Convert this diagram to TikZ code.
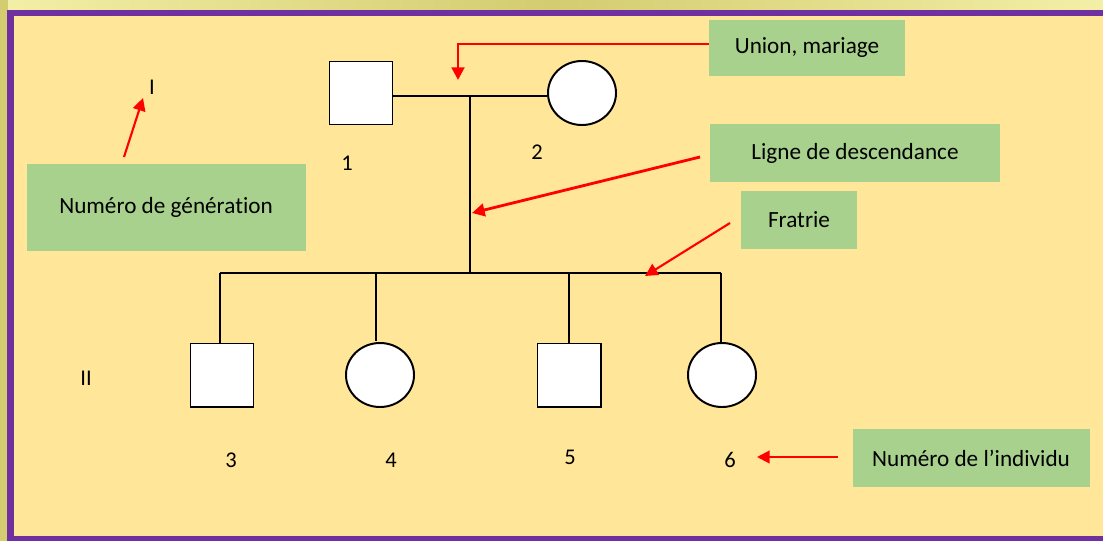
\documentclass[tikz,border=0pt]{standalone}
\usepackage{fontspec}
\setmainfont{Carlito}[Ligatures=NoCommon]
\usetikzlibrary{positioning,shapes,arrows.meta}

\definecolor{bgyellow}{HTML}{FFE699}
\definecolor{glow}{HTML}{D3CC70}
\definecolor{glowlight}{HTML}{F3EFA6}
\definecolor{frame}{HTML}{7030A0}
\definecolor{note}{HTML}{A9D18E}
\definecolor{pointer}{HTML}{FF0000}

\tikzset{
  male/.style={draw, line width=1.4pt, fill=white, minimum size=1.575cm, inner sep=0pt},
  female/.style={draw, line width=1.4pt, fill=white, ellipse, minimum width=1.7cm, minimum height=1.6cm, inner sep=0pt},
  link/.style={line width=1.4pt},
  notebox/.style={fill=note, font=\fontsize{16.5}{19}\selectfont, inner sep=0pt},
  num/.style={font=\fontsize{16}{19}\selectfont},
  redarrow/.style={draw=pointer, line width=2pt, -{Triangle[length=9pt,width=9pt]}}
}

\begin{document}
\begin{tikzpicture}[x=0.025cm, y=-0.025cm]
\useasboundingbox (0,0) rectangle (1103,541);
% background and frame
\fill[left color=glowlight, right color=glowlight, middle color=glow] (0,0) rectangle (1103,14);
\fill[glow] (0,0) rectangle (8,541);
\fill[frame] (7,9.5) rectangle (1103,15.5);
\fill[frame] (7,9.5) rectangle (13.5,541);
\fill[frame] (7,535.5) rectangle (1103,541);
\fill[bgyellow] (13.5,15.5) rectangle (1103,535.5);

% generation I
\node[male] (p1) at (361,93) {};
\node[female] (p2) at (582,93) {};
\node[num] (n1) at (347,163) {1};
\node[num] (n2) at (537,152) {2};
\coordinate (union) at (470,96);
\coordinate (sibs) at (470,273);
\draw[link] (p1.east |- union) -- (p2.west |- union);
\draw[link] (union) -- (sibs);

% generation II
\node[male] (p3) at (222,375) {};
\node[female] (p4) at (380,375) {};
\node[male] (p5) at (569,375) {};
\node[female] (p6) at (722,375) {};
\node[num] (n3) at (231,460) {3};
\node[num] (n4) at (391,460) {4};
\node[num] (n5) at (570,457) {5};
\node[num] (n6) at (730,460) {6};
\coordinate (sibl) at (220,273);
\coordinate (sibr) at (721,273);
\draw[link] (sibl) -- (sibr);
\draw[link] (sibl) -- (sibl |- p3.north);
\draw[link] (376,273) -- (376,341);
\draw[link] (569,273) -- (p5.north);
\draw[link] (sibr) -- (sibr |- p6.north);

% generation numbers
\node[num] (g1) at (152,87) {I};
\node[num] (g2) at (86,378) {II};

% notes
\node[notebox, minimum width=196*0.025cm, minimum height=56*0.025cm] (unionnote) at (807,48) {Union, mariage};
\node[notebox, minimum width=290*0.025cm, minimum height=58*0.025cm] (descnote) at (855,153) {Ligne de descendance};
\node[notebox, minimum width=116*0.025cm, minimum height=58*0.025cm] (fratnote) at (799,220) {Fratrie};
\node[notebox, minimum width=279*0.025cm, minimum height=87*0.025cm] (gennote) at (166,207) {Numéro de génération};
\node[notebox, minimum width=237*0.025cm, minimum height=58*0.025cm] (indnote) at (971,458) {Numéro de l’individu};

% pointers
\coordinate (unionbend) at (458,44);
\coordinate (uniontip) at (458,80);
\draw[redarrow] (unionnote.west |- unionbend) -- (unionbend) -- (uniontip);
\coordinate (descstart) at (700,157);
\coordinate (desctip) at (472,213);
\draw[redarrow] (descstart) -- (desctip);
\coordinate (fratstart) at (730,223);
\coordinate (frattip) at (645,276);
\draw[redarrow, line width=1.5pt] (fratstart) -- (frattip);
\coordinate (genstart) at (124,157);
\coordinate (gentip) at (143,98);
\draw[redarrow, line width=1.5pt] (genstart) -- (gentip);
\coordinate (indstart) at (838,457);
\coordinate (indtip) at (757,457);
\draw[redarrow, line width=1.5pt] (indstart) -- (indtip);
\end{tikzpicture}
\end{document}
